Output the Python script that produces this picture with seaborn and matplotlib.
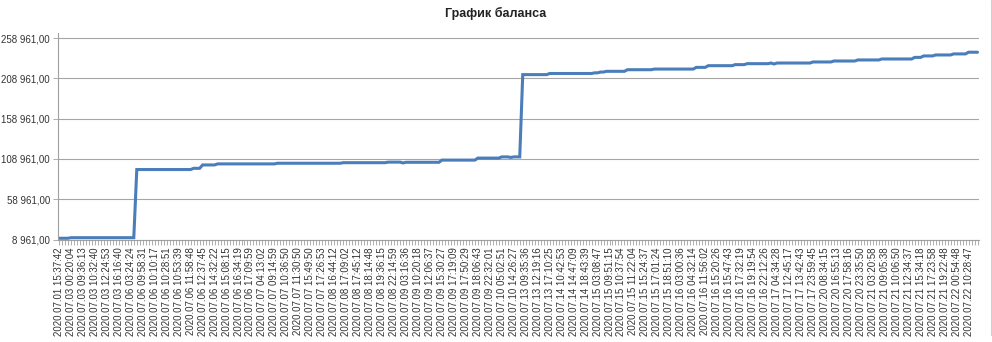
import numpy as np
import pandas as pd
import matplotlib
matplotlib.use("Agg")
import matplotlib.pyplot as plt
from matplotlib.ticker import FixedLocator, FuncFormatter, MultipleLocator
from matplotlib.lines import Line2D
import seaborn as sns

title = "График баланса"

tick_labels = [
    "2020.07.01 15:37:42", "2020.07.03 00:20:04", "2020.07.03 09:36:13", "2020.07.03 10:32:40",
    "2020.07.03 12:24:53", "2020.07.03 16:16:40", "2020.07.06 03:24:24", "2020.07.06 09:58:31",
    "2020.07.06 10:10:17", "2020.07.06 10:28:51", "2020.07.06 10:53:39", "2020.07.06 11:58:48",
    "2020.07.06 12:37:45", "2020.07.06 14:32:22", "2020.07.06 15:08:15", "2020.07.06 16:34:19",
    "2020.07.06 17:09:59", "2020.07.07 04:13:02", "2020.07.07 09:14:59", "2020.07.07 10:36:50",
    "2020.07.07 11:30:50", "2020.07.07 15:49:50", "2020.07.07 17:26:53", "2020.07.08 16:44:12",
    "2020.07.08 17:09:02", "2020.07.08 17:45:12", "2020.07.08 18:14:48", "2020.07.08 19:36:15",
    "2020.07.08 22:14:59", "2020.07.09 03:16:36", "2020.07.09 10:20:18", "2020.07.09 12:06:37",
    "2020.07.09 15:30:27", "2020.07.09 17:19:09", "2020.07.09 17:50:29", "2020.07.09 18:06:43",
    "2020.07.09 22:32:01", "2020.07.10 05:02:51", "2020.07.10 14:26:27", "2020.07.13 09:35:36",
    "2020.07.13 12:19:16", "2020.07.13 17:10:25", "2020.07.14 10:42:53", "2020.07.14 14:47:09",
    "2020.07.14 18:43:39", "2020.07.15 03:08:47", "2020.07.15 09:51:15", "2020.07.15 10:37:54",
    "2020.07.15 11:22:04", "2020.07.15 15:24:37", "2020.07.15 17:01:24", "2020.07.15 18:51:10",
    "2020.07.16 03:00:36", "2020.07.16 04:32:14", "2020.07.16 11:56:02", "2020.07.16 15:20:26",
    "2020.07.16 15:47:43", "2020.07.16 17:32:19", "2020.07.16 19:19:54", "2020.07.16 22:12:26",
    "2020.07.17 04:34:28", "2020.07.17 12:45:17", "2020.07.17 13:42:43", "2020.07.17 23:59:45",
    "2020.07.20 08:34:15", "2020.07.20 16:55:13", "2020.07.20 17:58:16", "2020.07.20 23:35:50",
    "2020.07.21 03:20:58", "2020.07.21 09:05:38", "2020.07.21 10:06:50", "2020.07.21 12:34:37",
    "2020.07.21 15:34:18", "2020.07.21 17:23:58", "2020.07.21 19:22:48", "2020.07.22 00:54:48",
    "2020.07.22 10:28:47",
]

# balance per trade (one row = four trades, the first of each row is labelled)
balance = [
    10500, 10500, 10500, 10500,
    11200, 11200, 11200, 11200,
    11200, 11200, 11200, 11200,
    11200, 11200, 11200, 11200,
    11200, 11200, 11200, 11200,
    11200, 11200, 11200, 11200,
    11200, 11200, 95800, 95800,
    95800, 95800, 95800, 95800,
    95800, 95800, 95800, 95800,
    95800, 95800, 95800, 95800,
    95800, 95800, 95800, 95800,
    95800, 97300, 97300, 97300,
    101500, 101500, 101500, 101500,
    101500, 102800, 102800, 102800,
    102800, 102800, 102800, 102800,
    102800, 102800, 102800, 102800,
    102800, 102800, 102800, 102800,
    102800, 102800, 102800, 102800,
    102800, 103600, 103600, 103600,
    103600, 103600, 103600, 103600,
    103600, 103600, 103600, 103600,
    103600, 103600, 103600, 103600,
    103600, 103600, 103600, 103600,
    103600, 103600, 103600, 104300,
    104300, 104300, 104300, 104300,
    104300, 104300, 104300, 104300,
    104300, 104300, 104300, 104300,
    104300, 104300, 105000, 105000,
    105000, 105000, 105000, 104000,
    104800, 104800, 104800, 104800,
    104800, 104800, 104800, 104800,
    104800, 104800, 104800, 104800,
    107500, 107500, 107500, 107500,
    107500, 107500, 107500, 107500,
    107500, 107500, 107500, 107500,
    110000, 110000, 110000, 110000,
    110000, 110000, 110000, 110000,
    111500, 111500, 111500, 110800,
    111500, 111500, 111500, 213600,
    213600, 213600, 213600, 213600,
    213600, 213600, 213600, 213600,
    215000, 215000, 215000, 215000,
    215000, 215000, 215000, 215000,
    215000, 215000, 215000, 215000,
    215000, 215000, 215000, 215800,
    215800, 216800, 216800, 217700,
    217700, 217700, 217700, 217700,
    217700, 217700, 219700, 219700,
    219700, 219700, 219700, 219700,
    219700, 219700, 219700, 220500,
    220500, 220500, 220500, 220500,
    220500, 220500, 220500, 220500,
    220500, 220500, 220500, 220500,
    220500, 222600, 222600, 222600,
    222600, 224700, 224700, 224700,
    224700, 224700, 224700, 224700,
    224700, 224700, 226000, 226000,
    226000, 226000, 227200, 227200,
    227200, 227200, 227200, 227200,
    227200, 227200, 228000, 226800,
    228000, 228000, 228000, 228000,
    228000, 228000, 228000, 228000,
    228000, 228000, 228000, 228000,
    229300, 229300, 229300, 229300,
    229300, 229300, 229300, 230500,
    230500, 230500, 230500, 230500,
    230500, 230500, 230500, 231800,
    231800, 231800, 231800, 231800,
    231800, 231800, 231800, 233000,
    233000, 233000, 233000, 233000,
    233000, 233000, 233000, 233000,
    233000, 233000, 235000, 235000,
    235000, 236800, 236800, 236800,
    236800, 238000, 238000, 238000,
    238000, 238000, 238000, 239300,
    239300, 239300, 239300, 239300,
    241400, 241400, 241400, 241400,
]

y_ticks = [8961, 58961, 108961, 158961, 208961, 258961]
label_every = 4

df = pd.DataFrame({"trade": np.arange(len(balance)), "balance": balance})

sns.set_style("white")
plt.rcParams["font.family"] = ["Liberation Sans", "DejaVu Sans"]

fig = plt.figure(figsize=(9.92, 3.42), dpi=100)
ax = fig.add_axes([57.5 / 992, 1 - 239.5 / 342, (979 - 57.5) / 992, (239.5 - 33) / 342])

sns.lineplot(data=df, x="trade", y="balance", ax=ax, color="#4a7ebb",
             linewidth=2.2, solid_joinstyle="miter")

ax.set_xlim(-0.5, len(balance) - 0.5)
ax.set_ylim(y_ticks[0], y_ticks[-1] + 6300)

ax.yaxis.set_major_locator(FixedLocator(y_ticks))
ax.yaxis.set_major_formatter(FuncFormatter(
    lambda v, p: f"{v:,.2f}".replace(",", " ").replace(".", ",")))
ax.grid(axis="y", color="#a6a6a6", linewidth=0.8)
ax.set_axisbelow(True)

major_pos = np.arange(0, len(tick_labels) * label_every, label_every)
ax.set_xticks(major_pos)
ax.set_xticklabels(tick_labels, rotation=90, fontsize=7, color="#333333")
ax.xaxis.set_minor_locator(MultipleLocator(1))
ax.tick_params(axis="x", which="both", direction="out", length=3.5, width=0.6,
               color="#a0a0a0", pad=2, bottom=True)
ax.tick_params(axis="y", which="major", direction="out", length=3.5, width=0.6,
               color="#a0a0a0", labelsize=7, labelcolor="#333333", pad=2, left=True)

ax.set_xlabel("")
ax.set_ylabel("")
for s in ["top", "right"]:
    ax.spines[s].set_visible(False)
for s in ["left", "bottom"]:
    ax.spines[s].set_color("#a0a0a0")
    ax.spines[s].set_linewidth(0.8)

fig.text(0.5, 1 - 13 / 342, title, ha="center", va="center",
         fontsize=9, fontweight="bold", color="#222222")

fig.add_artist(Line2D([990.5 / 992, 990.5 / 992], [1 - 335 / 342, 1.0],
                      transform=fig.transFigure, color="#d0d0d0", linewidth=0.8))

fig.savefig("out.png", dpi=100, facecolor="white")
